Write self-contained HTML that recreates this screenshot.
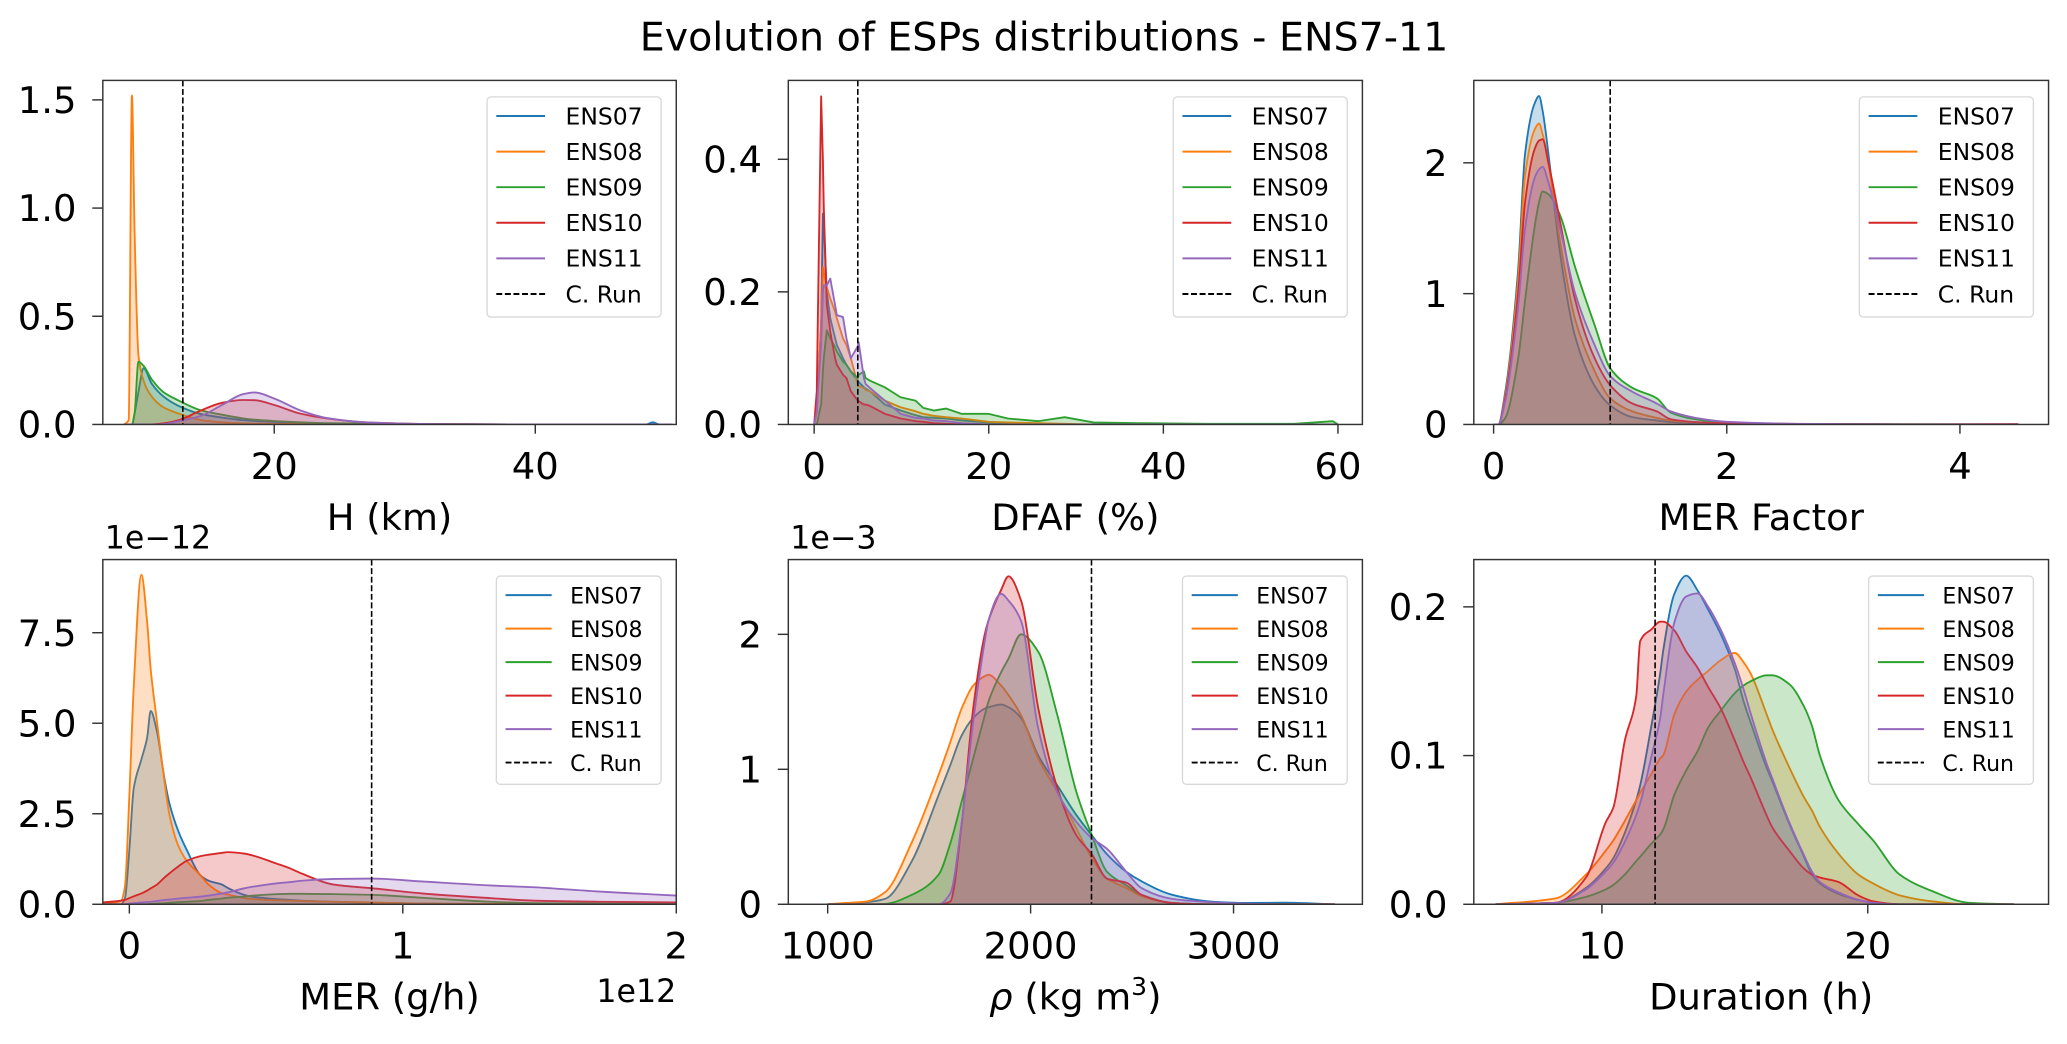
<!DOCTYPE html>
<html><head><meta charset="utf-8"><style>
html,body{margin:0;padding:0;background:#fff;}
svg{display:block;font-family:"DejaVu Sans","Liberation Sans",sans-serif;}
</style></head><body>
<svg id="chart" width="2067" height="1044" viewBox="0 0 1568 792" preserveAspectRatio="none" xmlns="http://www.w3.org/2000/svg">
<rect x="0" y="0" width="1568" height="792" fill="#fff"/>
<text x="792" y="38.5" font-size="30" text-anchor="middle" fill="#000">Evolution of ESPs distributions - ENS7-11</text>
</svg>
<script>
// ---------- DATA ----------
const seriesNames = ["ENS07","ENS08","ENS09","ENS10","ENS11"];
const seriesColors = ["#1f77b4","#ff7f0e","#2ca02c","#d62728","#9467bd"];

// H (km)
const h_x = [8.5,8.85,9.1,9.3,9.6,10,10.6,11.5,12.7,14.4,16,17.6,18.5,20,22,24,27,32,40,48.5,49,49.5,50.5];
const h_ens07 = [0,0,0,0.05,0.15,0.26,0.19,0.13,0.085,0.048,0.032,0.02,0.016,0.012,0.008,0.005,0.003,0.001,0,0,0.01,0,0];
const h_ens08 = [0,0.02,1.52,0.9,0.32,0.2,0.13,0.08,0.05,0.02,0.01,0.005,0.004,0.003,0.002,0.001,0,0,0,0,0,0,0];
const h_ens09 = [0,0,0,0.05,0.29,0.27,0.21,0.15,0.11,0.065,0.045,0.028,0.022,0.016,0.01,0.006,0.004,0.002,0,0,0,0,0];
const h_ens10 = [0,0,0,0,0,0,0,0.005,0.02,0.065,0.1,0.113,0.112,0.09,0.05,0.028,0.01,0.002,0,0,0,0,0];
const h_ens11 = [0,0,0,0,0,0,0,0.002,0.015,0.04,0.09,0.14,0.148,0.12,0.065,0.03,0.01,0.002,0,0,0,0,0];
const h_crun = 13.0;

// DFAF (%)
const dfaf_x = [0,0.3,0.8,1.0,1.1,1.45,1.85,2.4,2.6,3.3,3.7,4.2,5,5.1,5.7,5.9,6.4,8.1,9.9,11.6,12.5,13.7,15.1,16.9,20,22.2,25.7,28.7,32,37,45,55,59.4,60];
const dfaf_ens07 = [0,0.02,0.15,0.318,0.3,0.2,0.16,0.13,0.12,0.1,0.09,0.08,0.066,0.064,0.056,0.054,0.05,0.03,0.021,0.014,0.011,0.01,0.009,0.006,0.003,0.002,0.001,0,0,0,0,0,0,0];
const dfaf_ens08 = [0,0.02,0.15,0.237,0.23,0.207,0.19,0.17,0.16,0.13,0.12,0.1,0.06,0.058,0.055,0.052,0.05,0.036,0.026,0.02,0.016,0.013,0.011,0.009,0.004,0.003,0.002,0.001,0,0,0,0,0,0];
const dfaf_ens09 = [0,0,0.03,0.08,0.1,0.142,0.13,0.117,0.11,0.095,0.09,0.08,0.07,0.075,0.08,0.07,0.066,0.056,0.041,0.036,0.025,0.021,0.024,0.016,0.016,0.009,0.005,0.011,0.003,0.002,0.001,0.001,0.005,0];
const dfaf_ens10 = [0,0.05,0.495,0.4,0.33,0.18,0.14,0.1,0.09,0.075,0.07,0.05,0.036,0.035,0.03,0.03,0.028,0.016,0.009,0.005,0.004,0.002,0.001,0,0,0,0,0,0,0,0,0,0,0];
const dfaf_ens11 = [0,0.02,0.12,0.2,0.21,0.21,0.22,0.18,0.165,0.162,0.13,0.1,0.118,0.124,0.07,0.061,0.055,0.036,0.016,0.01,0.009,0.006,0.005,0.002,0,0,0,0,0,0,0,0,0,0];
const dfaf_crun = 5;

// MER factor
const merf_x = [0,0.04,0.1,0.21,0.27,0.35,0.39,0.42,0.47,0.57,0.7,0.87,1.0,1.19,1.4,1.52,1.8,2.0,2.6,3.5,4.5];
const merf_ens07 = [0,0,0.25,1.18,2.07,2.45,2.51,2.4,2.07,1.31,0.67,0.29,0.145,0.056,0.03,0.018,0.008,0.005,0.002,0,0];
const merf_ens08 = [0,0,0.22,1.1,1.9,2.25,2.3,2.22,2.0,1.4,0.8,0.4,0.2,0.1,0.05,0.03,0.015,0.01,0.003,0,0];
const merf_ens09 = [0,0,0.05,0.5,0.95,1.5,1.7,1.78,1.76,1.6,1.2,0.75,0.43,0.28,0.2,0.09,0.03,0.01,0.003,0.002,0];
const merf_ens10 = [0,0,0.2,1.0,1.7,2.1,2.17,2.18,2.0,1.55,0.95,0.5,0.3,0.16,0.1,0.04,0.015,0.01,0.004,0.001,0.003];
const merf_ens11 = [0,0,0.18,0.9,1.5,1.88,1.95,1.97,1.85,1.5,1.0,0.6,0.37,0.25,0.16,0.1,0.04,0.02,0.005,0,0];
const merf_crun = 1.0;

// MER (g/h), x in 1e12, y in 1e-12
const mer_x = [-0.1,-0.03,-0.016,0,0.016,0.044,0.065,0.078,0.1,0.13,0.146,0.18,0.21,0.26,0.29,0.34,0.36,0.42,0.44,0.54,0.585,0.63,0.75,0.89,1.07,1.32,1.48,1.72,2.0];
const mer_ens07 = [0,0,0.17,1.5,3.2,4.0,4.6,5.34,4.8,3.4,2.8,2.0,1.5,0.8,0.65,0.54,0.45,0.26,0.22,0.14,0.12,0.1,0.07,0.04,0.02,0.01,0,0,0];
const mer_ens08 = [0,0.1,0.5,3.0,6.0,9.1,7.8,6.5,5.1,3.3,2.5,1.6,1.2,0.8,0.54,0.3,0.27,0.17,0.15,0.11,0.1,0.09,0.07,0.05,0.02,0.01,0,0,0];
const mer_ens09 = [0,0,0,0,0,0,0,0.01,0.02,0.03,0.04,0.06,0.07,0.09,0.12,0.16,0.18,0.21,0.23,0.28,0.29,0.29,0.28,0.26,0.18,0.07,0.03,0.02,0.01];
const mer_ens10 = [0.05,0.1,0.12,0.17,0.22,0.3,0.38,0.44,0.54,0.75,0.85,1.05,1.2,1.33,1.37,1.42,1.44,1.4,1.37,1.12,1.0,0.85,0.54,0.44,0.3,0.17,0.1,0.07,0.05];
const mer_ens11 = [0,0,0,0.02,0.03,0.05,0.06,0.07,0.09,0.12,0.13,0.16,0.18,0.21,0.24,0.3,0.33,0.44,0.47,0.58,0.61,0.65,0.7,0.71,0.63,0.52,0.47,0.35,0.24];
const mer_crun = 0.886;

// rho (kg m3), y in 1e-3
const rho_x = [1000,1094,1189,1283,1415,1547,1604,1660,1717,1774,1792,1855,1891,1953,2038,2132,2226,2302,2377,2472,2547,2698,2887,3050,3245,3500];
const rho_ens07 = [0,0.005,0.015,0.04,0.32,0.81,1.03,1.25,1.38,1.45,1.46,1.48,1.46,1.38,1.1,0.88,0.66,0.51,0.37,0.24,0.17,0.07,0.02,0.01,0.012,0];
const rho_ens08 = [0,0.01,0.02,0.09,0.46,0.96,1.2,1.45,1.62,1.69,1.7,1.62,1.55,1.4,1.08,0.83,0.56,0.34,0.19,0.12,0.06,0.01,0,0,0,0];
const rho_ens09 = [0,0,0,0.003,0.07,0.22,0.45,0.76,1.08,1.4,1.5,1.72,1.82,2.0,1.87,1.4,0.83,0.51,0.24,0.14,0.07,0.01,0,0,0,0];
const rho_ens10 = [0,0,0,0,0,0,0.02,0.59,1.45,2.0,2.1,2.33,2.43,2.25,1.45,0.86,0.51,0.37,0.19,0.16,0.07,0.01,0,0,0,0];
const rho_ens11 = [0,0,0,0,0,0,0.08,0.6,1.35,1.95,2.1,2.3,2.25,2.1,1.3,0.83,0.61,0.49,0.41,0.24,0.12,0.04,0.015,0.005,0,0];
const rho_crun = 2300;

// Duration (h)
const dur_x = [6,8.27,9.4,10.14,10.43,10.86,11.29,11.44,11.87,12.19,12.3,12.73,13.17,13.6,14.0,14.46,15.0,15.32,15.6,16.19,16.4,17.05,17.6,17.9,18.2,18.9,19.64,20.2,21.2,22.4,23.8,25.5];
const dur_ens07 = [0,0.001,0.011,0.024,0.031,0.048,0.07,0.08,0.121,0.155,0.17,0.209,0.221,0.211,0.198,0.182,0.158,0.137,0.122,0.092,0.083,0.054,0.032,0.02,0.014,0.007,0.003,0.001,0,0,0,0];
const dur_ens08 = [0,0.004,0.02,0.036,0.043,0.056,0.07,0.075,0.088,0.098,0.1,0.128,0.143,0.151,0.157,0.164,0.169,0.163,0.155,0.128,0.118,0.092,0.072,0.063,0.052,0.034,0.02,0.014,0.006,0.002,0,0];
const dur_ens09 = [0,0.001,0.005,0.01,0.013,0.02,0.029,0.032,0.041,0.047,0.05,0.074,0.09,0.103,0.119,0.13,0.142,0.147,0.15,0.154,0.154,0.148,0.133,0.12,0.1,0.07,0.054,0.043,0.02,0.009,0.001,0];
const dur_ens10 = [0,0.001,0.018,0.055,0.065,0.11,0.14,0.177,0.185,0.19,0.19,0.184,0.17,0.159,0.146,0.132,0.11,0.096,0.085,0.06,0.052,0.036,0.024,0.02,0.018,0.015,0.006,0.002,0,0,0,0];
const dur_ens11 = [0,0.001,0.01,0.022,0.028,0.042,0.06,0.068,0.1,0.125,0.14,0.19,0.207,0.209,0.2,0.185,0.162,0.145,0.128,0.095,0.085,0.055,0.033,0.022,0.015,0.008,0.003,0.001,0,0,0,0];
const dur_crun = 12;

// tick values and labels
const h_xticks = [20,40], h_yticks = [0,0.5,1.0,1.5], h_ylabels = ["0.0","0.5","1.0","1.5"];
const dfaf_xticks = [0,20,40,60], dfaf_yticks = [0,0.2,0.4], dfaf_ylabels = ["0.0","0.2","0.4"];
const merf_xticks = [0,2,4], merf_yticks = [0,1,2], merf_ylabels = ["0","1","2"];
const mer_xticks = [0,1,2], mer_yticks = [0,2.5,5,7.5], mer_ylabels = ["0.0","2.5","5.0","7.5"];
const rho_xticks = [1000,2000,3000], rho_yticks = [0,1,2], rho_ylabels = ["0","1","2"];
const dur_xticks = [10,20], dur_yticks = [0,0.1,0.2], dur_ylabels = ["0.0","0.1","0.2"];

// ---------- RENDER ----------
const NS = 'http://www.w3.org/2000/svg';
const svg = document.getElementById('chart');
function mk(tag, attrs, parent){
  const e = document.createElementNS(NS, tag);
  for (const k in attrs) e.setAttribute(k, attrs[k]);
  (parent || svg).appendChild(e);
  return e;
}
const defs = mk('defs', {});

const panels = [
  {key:'h', L:78, R:513, T:61, B:322, xd:[6.87,50.8], yd:[0,1.59], xs:h_x, ys:[h_ens07,h_ens08,h_ens09,h_ens10,h_ens11], crun:h_crun, xt:h_xticks, yt:h_yticks, yl:h_ylabels, xlabel:'H (km)', smooth:true, big:true},
  {key:'dfaf', L:598, R:1033.5, T:61, B:322, xd:[-2.96,62.8], yd:[0,0.519], xs:dfaf_x, ys:[dfaf_ens07,dfaf_ens08,dfaf_ens09,dfaf_ens10,dfaf_ens11], crun:dfaf_crun, xt:dfaf_xticks, yt:dfaf_yticks, yl:dfaf_ylabels, xlabel:'DFAF (%)', smooth:false, big:true},
  {key:'merf', L:1118, R:1554, T:61, B:322, xd:[-0.17,4.76], yd:[0,2.63], xs:merf_x, ys:[merf_ens07,merf_ens08,merf_ens09,merf_ens10,merf_ens11], crun:merf_crun, xt:merf_xticks, yt:merf_yticks, yl:merf_ylabels, xlabel:'MER Factor', smooth:true, big:true},
  {key:'mer', L:78, R:513, T:424.5, B:686, xd:[-0.097,2.0], yd:[0,9.52], xs:mer_x, ys:[mer_ens07,mer_ens08,mer_ens09,mer_ens10,mer_ens11], crun:mer_crun, xt:mer_xticks, yt:mer_yticks, yl:mer_ylabels, xlabel:'MER (g/h)', smooth:true, big:false, offY:'1e\u221212', offX:'1e12'},
  {key:'rho', L:598, R:1033.5, T:424.5, B:686, xd:[806,3635], yd:[0,2.554], xs:rho_x, ys:[rho_ens07,rho_ens08,rho_ens09,rho_ens10,rho_ens11], crun:rho_crun, xt:rho_xticks, yt:rho_yticks, yl:rho_ylabels, xlabel:'rho', smooth:true, big:false, offY:'1e\u22123'},
  {key:'dur', L:1118, R:1554, T:424.5, B:686, xd:[5.18,26.8], yd:[0,0.2318], xs:dur_x, ys:[dur_ens07,dur_ens08,dur_ens09,dur_ens10,dur_ens11], crun:dur_crun, xt:dur_xticks, yt:dur_yticks, yl:dur_ylabels, xlabel:'Duration (h)', smooth:true, big:false}
];

function monoPath(px, py){
  const n = px.length;
  const d = [], m = new Array(n);
  for (let i=0;i<n-1;i++) d.push((py[i+1]-py[i])/(px[i+1]-px[i]));
  m[0]=d[0]; m[n-1]=d[n-2];
  for (let i=1;i<n-1;i++){
    if (d[i-1]*d[i] <= 0) m[i]=0;
    else { const w1=2*(px[i+1]-px[i])+(px[i]-px[i-1]), w2=(px[i+1]-px[i])+2*(px[i]-px[i-1]);
      m[i]=(w1+w2)/(w1/d[i-1]+w2/d[i]); }
  }
  let s = 'M'+px[0].toFixed(2)+','+py[0].toFixed(2);
  for (let i=0;i<n-1;i++){
    const h = px[i+1]-px[i];
    s += ' C'+(px[i]+h/3).toFixed(2)+','+(py[i]+m[i]*h/3).toFixed(2)+' '+(px[i+1]-h/3).toFixed(2)+','+(py[i+1]-m[i+1]*h/3).toFixed(2)+' '+px[i+1].toFixed(2)+','+py[i+1].toFixed(2);
  }
  return s;
}
function linPath(px, py){
  return px.map((x,i)=>(i?'L':'M')+x.toFixed(2)+','+py[i].toFixed(2)).join(' ');
}

panels.forEach((p, pi) => {
  const sx = v => p.L + (v - p.xd[0])/(p.xd[1]-p.xd[0])*(p.R-p.L);
  const sy = v => p.B - (v - p.yd[0])/(p.yd[1]-p.yd[0])*(p.B-p.T);
  const g = mk('g', {});
  
  

  const cp = mk('clipPath', {id:'clip-'+p.key}, defs);
  mk('rect', {x:p.L, y:p.T, width:p.R-p.L, height:p.B-p.T}, cp);

  const plot = mk('g', {'clip-path':'url(#clip-'+p.key+')'}, g);
  
  

  p.ys.forEach((vals, si) => {
    const px = p.xs.map(sx), py = vals.map(sy);
    const line = p.smooth ? monoPath(px, py) : linPath(px, py);
    const area = line + ' L' + px[px.length-1].toFixed(2) + ',' + p.B + ' L' + px[0].toFixed(2) + ',' + p.B + ' Z';
    const fa = mk('path', {d:area, fill:seriesColors[si], 'fill-opacity':0.25, stroke:'none'}, plot);
    
    
    const ln = mk('path', {d:line, fill:'none', stroke:seriesColors[si], 'stroke-width':1.4, 'stroke-linejoin':'round'}, plot);
    
    
  });

  const cr = mk('line', {x1:sx(p.crun), x2:sx(p.crun), y1:p.T, y2:p.B, stroke:'#000', 'stroke-width':1.2, 'stroke-dasharray':'4.5,2'}, plot);
  
  

  const frame = mk('rect', {x:p.L, y:p.T, width:p.R-p.L, height:p.B-p.T, fill:'none', stroke:'#333', 'stroke-width':1.1}, g);
  
  

  const xlabY = p.T < 100 ? 363.5 : 727;
  p.xt.forEach(v => {
    const x = sx(v);
    const t = mk('line', {x1:x, x2:x, y1:p.B, y2:p.B+7, stroke:'#333', 'stroke-width':1.1}, g);
    
    
    const lab = mk('text', {x:x, y:xlabY, 'font-size':28, 'text-anchor':'middle', fill:'#000'}, g);
    lab.textContent = String(v);
    
    
  });
  p.yt.forEach((v, i) => {
    const y = sy(v);
    const t = mk('line', {x1:p.L-8, x2:p.L, y1:y, y2:y, stroke:'#333', 'stroke-width':1.1}, g);
    
    
    const lab = mk('text', {x:p.L-20, y:y+10, 'font-size':28, 'text-anchor':'end', fill:'#000'}, g);
    lab.textContent = p.yl[i];
    
    
  });

  const axY = p.T < 100 ? 402 : 766;
  const xl = mk('text', {x:(p.L+p.R)/2, y:axY, 'font-size':28, 'text-anchor':'middle', fill:'#000'}, g);
  
  
  if (p.xlabel === 'rho') {
    const t1 = mk('tspan', {'font-style':'italic'}, xl); t1.textContent = '\u03C1';
    const t2 = mk('tspan', {}, xl); t2.textContent = ' (kg m';
    const t3 = mk('tspan', {'font-size':19, dy:-11}, xl); t3.textContent = '3';
    const t4 = mk('tspan', {dy:11}, xl); t4.textContent = ')';
  } else xl.textContent = p.xlabel;

  if (p.offY) {
    const o = mk('text', {x:p.L+1.5, y:416, 'font-size':24, fill:'#000'}, g);
    o.textContent = p.offY;
    
    
  }
  if (p.offX) {
    const o = mk('text', {x:p.R, y:760, 'font-size':24, 'text-anchor':'end', fill:'#000'}, g);
    o.textContent = p.offX;
    
    
  }

  // legend
  const W = p.big ? 132 : 125, H = p.big ? 167 : 158, sp = p.big ? 27 : 25.4;
  const fs = p.big ? 17.8 : 16.7, lx1 = 7, lx2 = p.big ? 44 : 42, tx = p.big ? 59.5 : 56;
  const bx = p.R - 11.5 - W, by = p.T + 12.5;
  const lg = mk('g', {}, g);
  
  
  mk('rect', {x:bx, y:by, width:W, height:H, rx:3, fill:'#fff', 'fill-opacity':0.85, stroke:'#d8d8d8', 'stroke-width':1}, lg);
  const labels = seriesNames.concat(['C. Run']);
  labels.forEach((name, i) => {
    const y = by + 14.5 + i*sp;
    const e = mk('g', {}, lg);
    
    
    const attrs = {x1:bx+lx1, x2:bx+lx2, y1:y, y2:y, stroke: i<5 ? seriesColors[i] : '#000', 'stroke-width':1.5};
    if (i === 5) attrs['stroke-dasharray'] = '4.5,2';
    mk('line', attrs, e);
    const t = mk('text', {x:bx+tx, y:y+6.3, 'font-size':fs, fill:'#000'}, e);
    t.textContent = name;
  });
});
</script>
</body></html>
